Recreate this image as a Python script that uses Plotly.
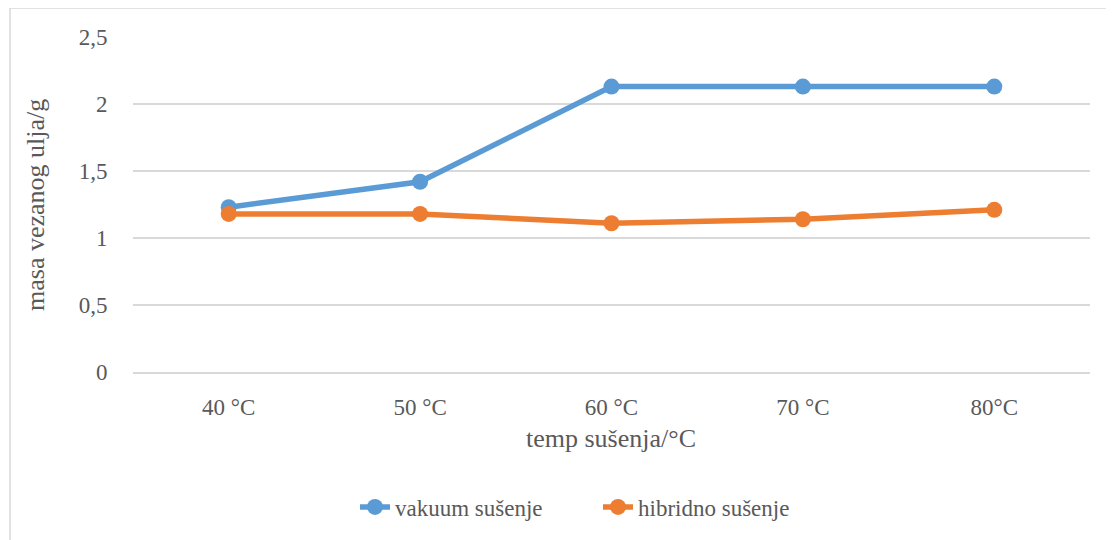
import plotly.graph_objects as go

categories = ["40 °C", "50 °C", "60 °C", "70 °C", "80°C"]
vakuum = [1.23, 1.42, 2.13, 2.13, 2.13]
hibridno = [1.18, 1.18, 1.11, 1.14, 1.21]
y_ticks = [0, 0.5, 1, 1.5, 2, 2.5]

FONT = "Liberation Serif"
TXT = "#595959"

fig = go.Figure()
fig.add_trace(go.Scatter(x=categories, y=vakuum, mode="lines+markers", name="vakuum sušenje",
                         line=dict(color="#5B9BD5", width=5.5), marker=dict(size=16, color="#5B9BD5")))
fig.add_trace(go.Scatter(x=categories, y=hibridno, mode="lines+markers", name="hibridno sušenje",
                         line=dict(color="#ED7D31", width=5.5), marker=dict(size=16, color="#ED7D31")))

# page body has an 8px margin; work in reference pixel coords minus 8
OFF = 8
W, H = 1114 - OFF, 540 - OFF
L, R, T, B = 133 - OFF, 24, 37 - OFF, 168
pw, ph = W - L - R, H - T - B


def px(x):
    return (x - OFF - L) / pw


def py(y):
    return (H - B - (y - OFF)) / ph


fig.update_layout(
    width=W, height=H,
    margin=dict(l=L, r=R, t=T, b=B),
    paper_bgcolor="white", plot_bgcolor="white",
    separators=",.",
    font=dict(family=FONT, color=TXT, size=23),
    showlegend=True,
    legend=dict(orientation="h", x=px(355), xanchor="left", y=py(507), yanchor="middle",
                entrywidth=198, entrywidthmode="pixels",
                font=dict(family=FONT, size=23, color=TXT), traceorder="normal"),
    xaxis=dict(range=[-0.5, 4.5], showgrid=False, showline=True, linecolor="#D9D9D9", linewidth=1.5,
               ticks="outside", ticklen=14, tickcolor="rgba(0,0,0,0)",
               tickfont=dict(family=FONT, size=23, color=TXT), zeroline=False),
    yaxis=dict(range=[0, 2.5], tickvals=y_ticks, showgrid=True, gridcolor="#D9D9D9", gridwidth=1.5,
               showline=False, zeroline=False, ticks="outside", ticklen=20, tickcolor="rgba(0,0,0,0)",
               tickfont=dict(family=FONT, size=23, color=TXT)),
    annotations=[
        dict(text="masa vezanog ulja/g", textangle=-90, xref="paper", yref="paper",
             x=px(35), y=py(205), xanchor="center", yanchor="middle",
             showarrow=False, font=dict(size=26, color=TXT, family=FONT)),
        dict(text="temp sušenja/°C", xref="paper", yref="paper",
             x=px(611), y=py(438), xanchor="center", yanchor="middle",
             showarrow=False, font=dict(size=26, color=TXT, family=FONT)),
    ],
    shapes=[
        dict(type="line", xref="paper", yref="paper", x0=px(10), x1=px(10),
             y0=py(8), y1=py(560), line=dict(color="#D9D9D9", width=1.5)),
        dict(type="line", xref="paper", yref="paper", x0=px(10), x1=px(1130),
             y0=py(8), y1=py(8), line=dict(color="#D9D9D9", width=1.5)),
    ],
)

fig.write_html("out.html")
